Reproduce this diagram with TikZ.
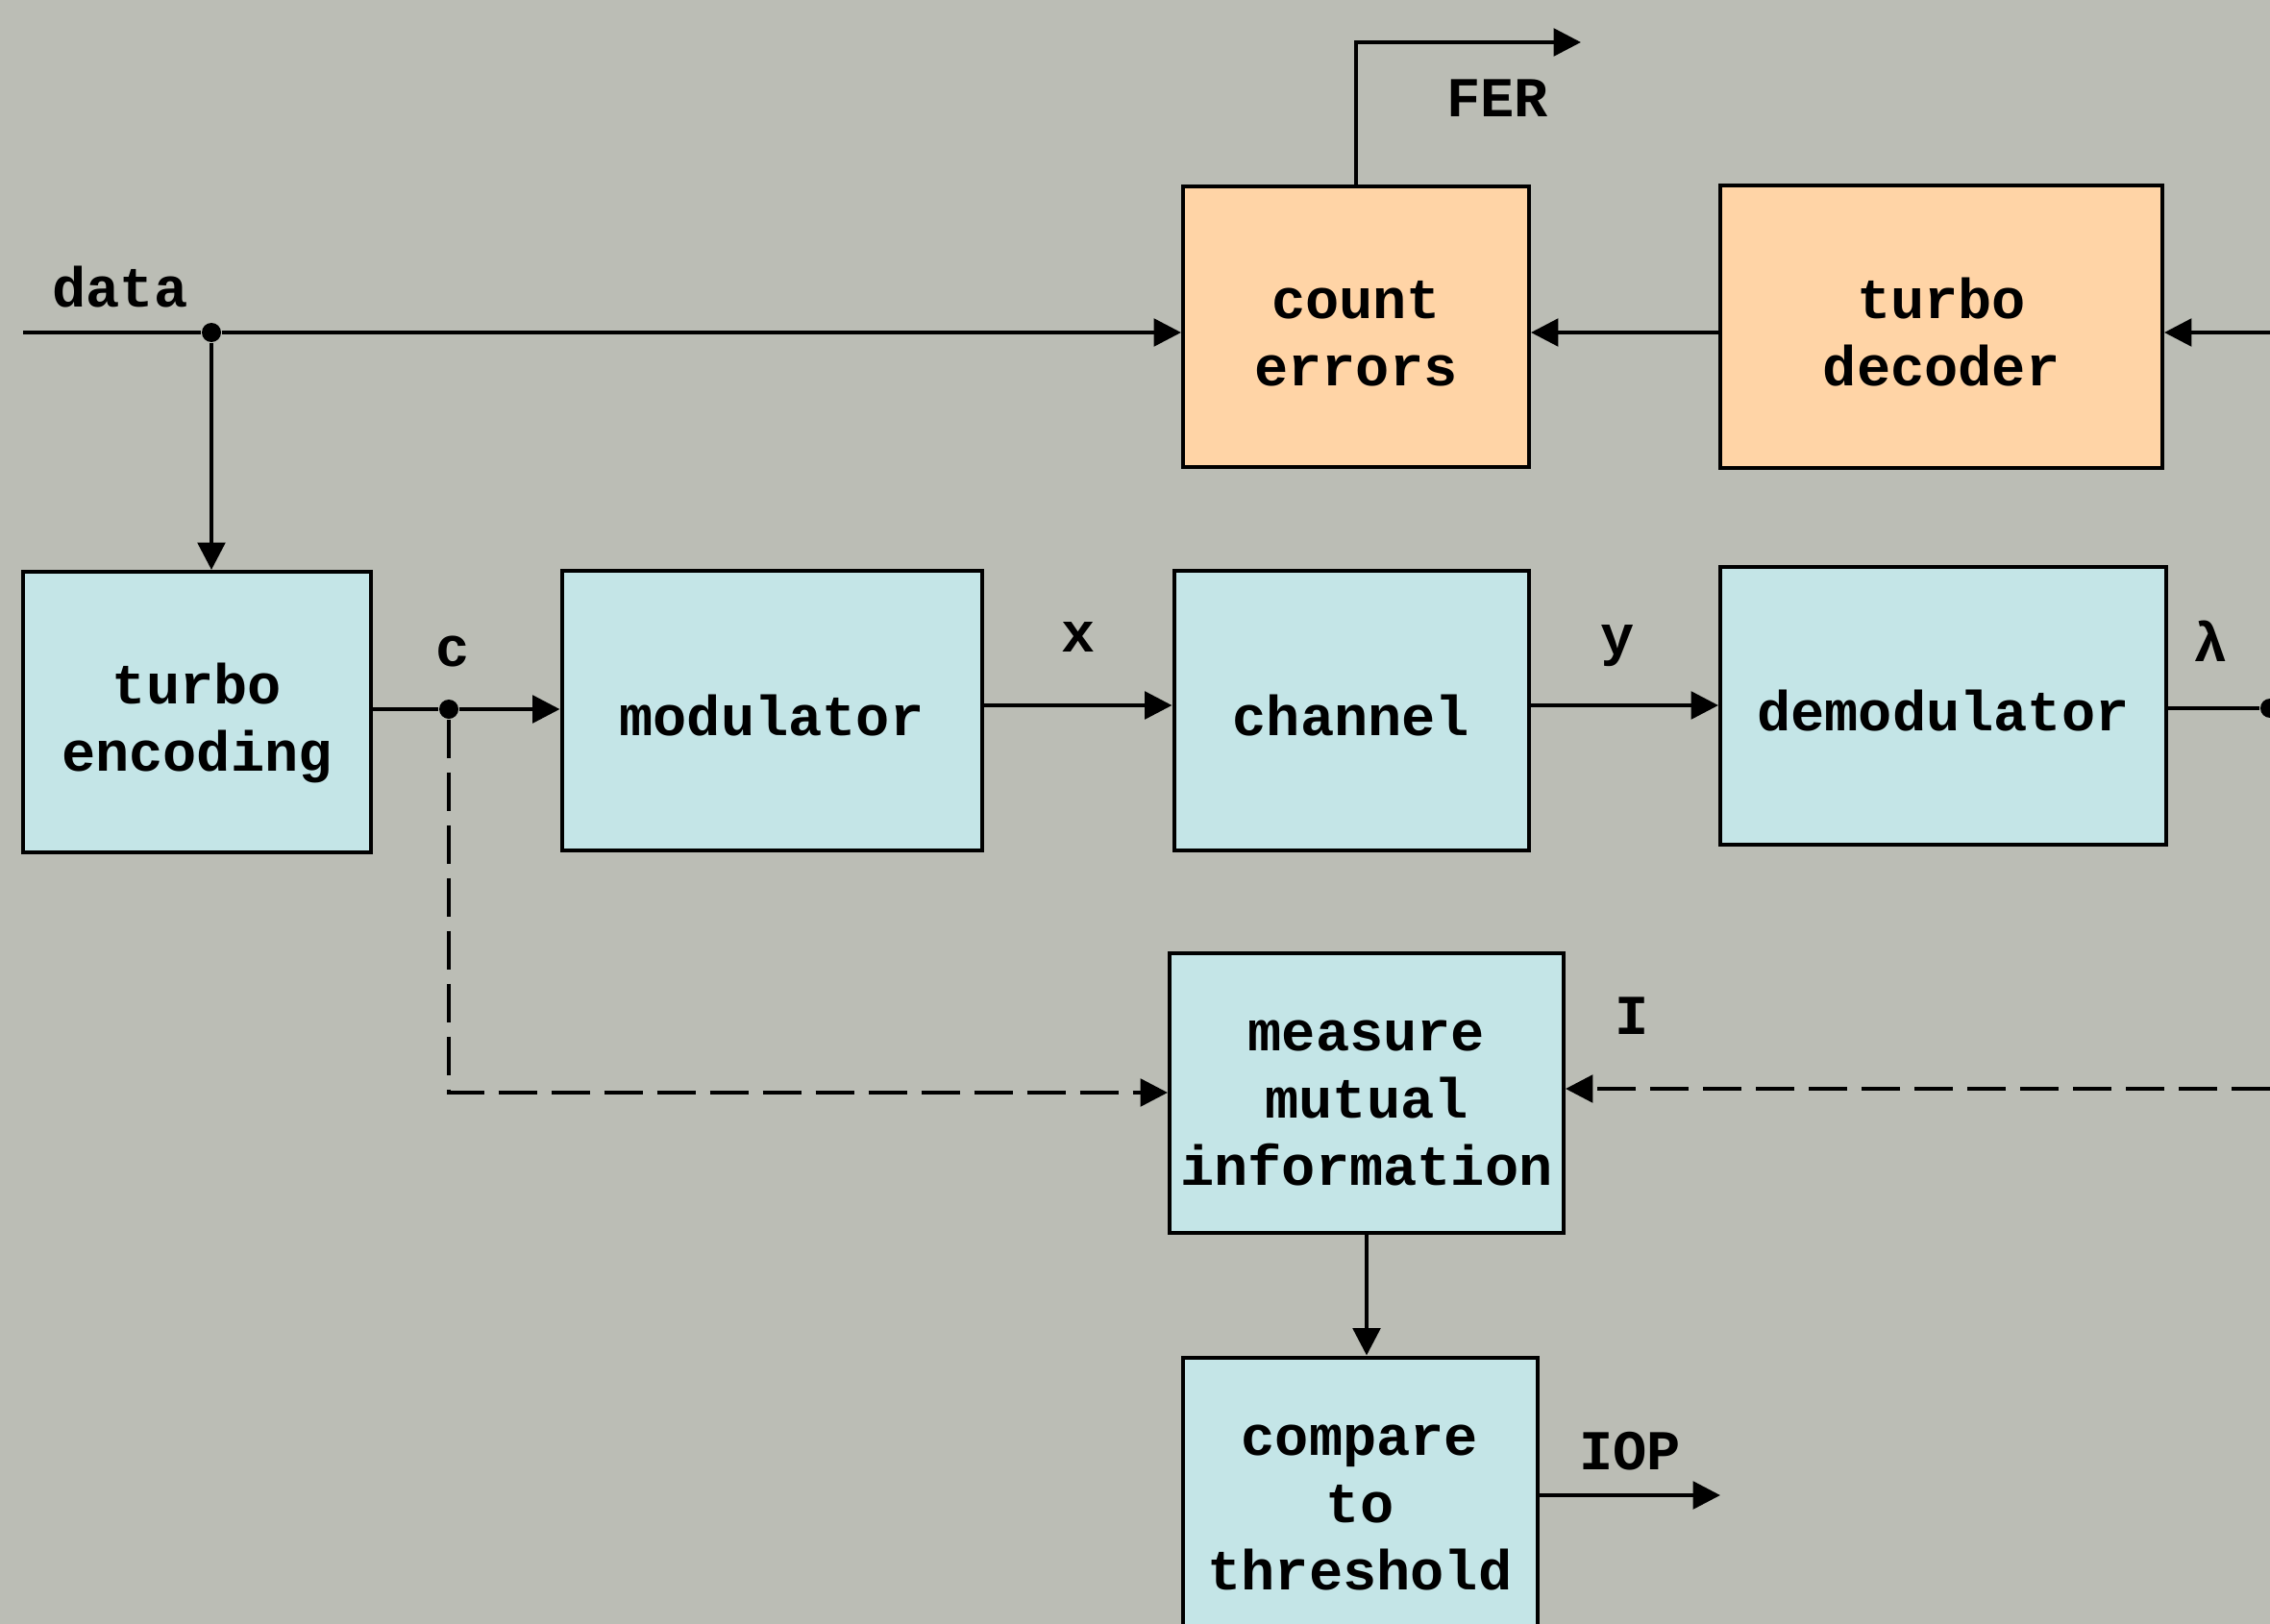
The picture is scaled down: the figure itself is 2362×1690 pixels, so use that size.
\documentclass[tikz,border=0pt]{standalone}
\usepackage{fontspec}
\setmonofont{Liberation Mono}
\usetikzlibrary{arrows.meta}
\definecolor{bg}{RGB}{187,189,181}
\definecolor{blu}{RGB}{196,229,231}
\definecolor{org}{RGB}{255,212,166}
\newcommand\boxlines[1]{\begin{tabular}{@{}c@{}}\rule{0pt}{22pt}#1\end{tabular}}
\begin{document}
\begin{tikzpicture}[x=0.3pt,y=-0.3pt,
  txt/.style={font=\ttfamily\bfseries\fontsize{17.6}{21}\selectfont},
  box/.style={txt, draw=black, line width=1.2pt, inner sep=0pt},
  sz/.style 2 args={minimum width={#1*0.3pt}, minimum height={#2*0.3pt}},
  lbl/.style={txt, inner sep=0pt, anchor=base},
  conn/.style={line width=1.3pt},
  arr/.style={conn, -{Triangle[length=8.5pt,width=8.5pt]}},
  dsh/.style={conn, dash pattern=on 12pt off 4.5pt, -{Triangle[length=8.5pt,width=8.5pt]}},
  dotn/.style={circle, fill=black, inner sep=0pt, minimum size=6pt}]
\useasboundingbox (0,0) rectangle (2362,1690);
\clip (0,0) rectangle (2362,1690);
\fill[bg] (0,0) rectangle (2362,1690);

% boxes
\node[box,fill=blu,sz={362}{292}] (enc) at (205,741) {\boxlines{turbo\\encoding}};
\node[box,fill=blu,sz={437}{291}] (mod) at (803,739) {\boxlines{modulator}};
\node[box,fill=blu,sz={369}{291}] (chan) at (1406,739) {\boxlines{channel}};
\node[box,fill=blu,sz={464}{289}] (demod) at (2022,734) {\boxlines{demodulator}};
\node[box,fill=org,sz={360}{291}] (cnt) at (1411,340) {\boxlines{count\\errors}};
\node[box,fill=org,sz={460}{293}] (dec) at (2020,340) {\boxlines{turbo\\decoder}};
\node[box,fill=blu,sz={410}{291}] (mi) at (1422,1137) {\boxlines{measure\\mutual\\information}};
\node[box,fill=blu,sz={369}{291}] (cmp) at (1415,1558) {\boxlines{compare\\to\\threshold}};

% junctions and free ends
\coordinate (din) at (24,346);
\node[dotn] (dd) at (220,346) {};
\node[dotn] (cd) at (467,738) {};
\node[dotn] (ld) at (2362,737) {};
\coordinate (rin) at (2362,346);
\coordinate (fer) at (1645,44);
\coordinate (iin) at (2362,1133);
\coordinate (iop) at (1790,1556);

% connectors
\draw[conn] (din) -- (dd);
\draw[arr] (dd) -- (dd -| cnt.west);
\draw[arr] (dd) -- (dd |- enc.north);
\draw[conn] (enc.east |- cd) -- (cd);
\draw[arr] (cd) -- (cd -| mod.west);
\draw[arr] (mod.east |- 0,734) -- (chan.west |- 0,734);
\draw[arr] (chan.east |- 0,734) -- (demod.west |- 0,734);
\draw[conn] (demod.east |- ld) -- (ld);
\draw[arr] (dec.west |- dd) -- (cnt.east |- dd);
\draw[arr] (rin) -- (rin -| dec.east);
\draw[arr] (cnt.north) -- (cnt.north |- fer) -- (fer);
\draw[dsh] (cd) |- (mi.west);
\draw[dsh] (iin) -- (iin -| mi.east);
\draw[arr] (mi.south) -- (mi.south |- cmp.north);
\draw[arr] (cmp.east |- iop) -- (iop);

% labels
\node[lbl] (ldata) at (125,319) {data};
\node[lbl] (lc) at (471,693) {c};
\node[lbl] (lx) at (1122,678) {x};
\node[lbl] (ly) at (1683,681) {y};
\node[lbl] (llam) at (2300,688) {λ};
\node[lbl] (lfer) at (1558,122) {FER};
\node[lbl] (li) at (1698,1076) {I};
\node[lbl] (liop) at (1696,1529) {IOP};
\end{tikzpicture}
\end{document}
